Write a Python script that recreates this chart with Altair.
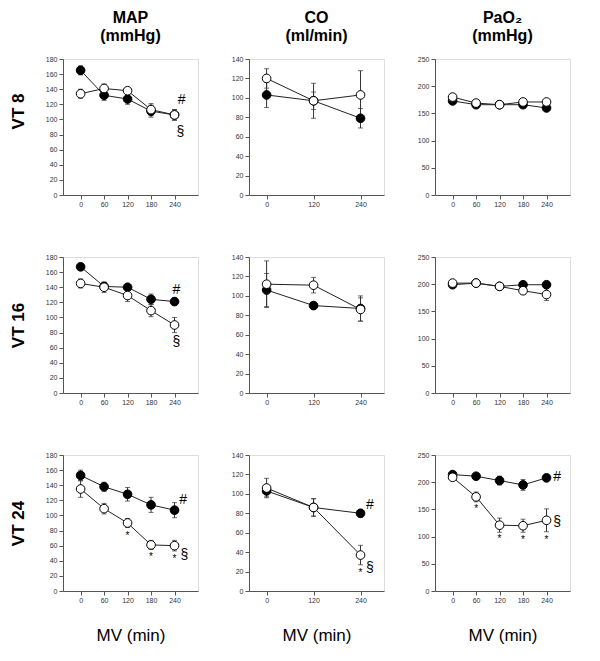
import altair as alt
import pandas as pd

FONT = "Liberation Sans"

times5 = [0, 60, 120, 180, 240]
times3 = [0, 120, 240]

# ---- MAP (mmHg) ----
map_vt8_filled = [165, 132, 127, 111, 106]
map_vt8_filled_err = [6, 7, 7, 8, 7]
map_vt8_open = [134, 141, 138, 113, 106]
map_vt8_open_err = [6, 6, 4, 8, 7]

map_vt16_filled = [167, 141, 140, 124, 121]
map_vt16_filled_err = [4, 5, 4, 7, 5]
map_vt16_open = [145, 140, 129, 109, 90]
map_vt16_open_err = [6, 7, 8, 8, 10]

map_vt24_filled = [153, 138, 128, 114, 107]
map_vt24_filled_err = [7, 6, 9, 10, 10]
map_vt24_open = [135, 109, 90, 61, 60]
map_vt24_open_err = [11, 7, 6, 6, 7]

# ---- CO (ml/min) ----
co_vt8_filled = [103, 97, 79]
co_vt8_filled_err = [13, 9, 10]
co_vt8_open = [120, 97, 103]
co_vt8_open_err = [10, 18, 25]

co_vt16_filled = [106, 90, 87]
co_vt16_filled_err = [17, 3, 13]
co_vt16_open = [112, 111, 86]
co_vt16_open_err = [24, 8, 12]

co_vt24_filled = [103, 86, 80]
co_vt24_filled_err = [6, 9, 4]
co_vt24_open = [106, 86, 37]
co_vt24_open_err = [10, 9, 10]

# ---- PaO2 (mmHg) ----
pao2_vt8_filled = [173, 166, 166, 166, 160]
pao2_vt8_filled_err = [5, 4, 3, 4, 4]
pao2_vt8_open = [180, 169, 166, 171, 171]
pao2_vt8_open_err = [5, 4, 3, 4, 4]

pao2_vt16_filled = [199, 202, 196, 199, 199]
pao2_vt16_filled_err = [4, 4, 4, 4, 4]
pao2_vt16_open = [202, 202, 196, 188, 181]
pao2_vt16_open_err = [4, 3, 4, 5, 11]

pao2_vt24_filled = [214, 211, 203, 195, 208]
pao2_vt24_filled_err = [4, 4, 8, 10, 4]
pao2_vt24_open = [209, 173, 121, 120, 130]
pao2_vt24_open_err = [5, 9, 13, 12, 21]

# ---- annotations (x, y, text) ----
map_vt8_notes = [(258, 126, "#"), (255, 83, "§")]
map_vt16_notes = [(245, 136, "#"), (245, 67, "§")]
map_vt24_notes = [(262, 121, "#"), (265, 47, "§")]
co_vt24_notes = [(264, 89, "#"), (264, 24, "§")]
pao2_vt24_notes = [(267, 209, "#"), (267, 126, "§")]

map_vt24_stars = [(120, 75), (180, 47), (240, 45)]
co_vt24_stars = [(240, 21)]
pao2_vt24_stars = [(60, 155), (120, 99), (180, 97), (240, 98)]

W, H = 135, 136
XDOM = [-45, 300]


def panel(times, filled, filled_err, open_, open_err, ymax, ystep,
          notes=(), stars=(), col_title=None, row_title=None, x_title=None,
          row_title_y=None):
    rows = []
    for g, vals, errs in (("filled", filled, filled_err), ("open", open_, open_err)):
        for t, v, e in zip(times, vals, errs):
            rows.append({"t": t, "v": v, "lo": v - e, "hi": v + e, "g": g})
    df = pd.DataFrame(rows)

    x_axis_kw = dict(values=times, grid=False, labelFontSize=7, labelFont=FONT,
                     labelColor="#333", tickSize=4, tickColor="#555",
                     domainColor="#555", labelPadding=1, labelOverlap=False,
                     labelFlush=False, tickCount=len(times))
    if x_title:
        x_axis_kw.update(title=x_title, titleFontSize=17, titleFont=FONT,
                         titleFontWeight="normal", titleColor="#000", titlePadding=24)
    else:
        x_axis_kw.update(title=None)
    yvals = list(range(0, ymax + 1, ystep))
    y_axis_kw = dict(values=yvals, grid=False,
                     labelFontSize=7, labelFont=FONT, labelColor="#333",
                     tickSize=4, tickColor="#555", domainColor="#555", labelPadding=2,
                     labelOverlap=False, labelFlush=False, tickCount=len(yvals))
    if row_title:
        y_axis_kw.update(title=row_title, titleFontSize=17, titleFont=FONT,
                         titleFontWeight="bold", titleColor="#000", titlePadding=18)
        if row_title_y is not None:
            y_axis_kw.update(titleY=row_title_y)
    else:
        y_axis_kw.update(title=None)

    xs = alt.Scale(domain=XDOM, nice=False, zero=False)
    ys = alt.Scale(domain=[0, ymax], nice=False, zero=False)
    xax = alt.Axis(**x_axis_kw)
    yax = alt.Axis(**y_axis_kw)

    def X(f):
        return alt.X(f, type="quantitative", scale=xs, axis=xax)

    def Y(f):
        return alt.Y(f, type="quantitative", scale=ys, axis=yax)

    base = alt.Chart(df)
    err = base.mark_rule(color="#333", strokeWidth=1).encode(
        x=X("t"), y=Y("lo"), y2="hi:Q")
    cap_lo = base.mark_tick(color="#333", orient="horizontal", size=5, thickness=1).encode(
        x=X("t"), y=Y("lo"))
    cap_hi = base.mark_tick(color="#333", orient="horizontal", size=5, thickness=1).encode(
        x=X("t"), y=Y("hi"))
    lines = base.mark_line(color="#222", strokeWidth=1).encode(
        x=X("t"), y=Y("v"), detail="g:N")
    pts_f = base.transform_filter(alt.datum.g == "filled").mark_point(
        shape="circle", filled=True, fill="#000", stroke="#000", strokeWidth=1,
        size=75, opacity=1).encode(x=X("t"), y=Y("v"))
    pts_o = base.transform_filter(alt.datum.g == "open").mark_point(
        shape="circle", filled=True, fill="#fff", stroke="#000", strokeWidth=1,
        size=75, opacity=1).encode(x=X("t"), y=Y("v"))

    layers = [err, cap_lo, cap_hi, lines, pts_f, pts_o]

    if notes:
        ndf = pd.DataFrame([{"t": a, "v": b, "s": s} for a, b, s in notes])
        layers.append(alt.Chart(ndf).mark_text(fontSize=14, font=FONT, color="#000",
                                               baseline="middle", align="center").encode(
            x=X("t"), y=Y("v"), text="s:N"))
    if stars:
        sdf = pd.DataFrame([{"t": a, "v": b, "s": "*"} for a, b in stars])
        layers.append(alt.Chart(sdf).mark_text(fontSize=10, font=FONT, color="#000",
                                               baseline="middle", align="center", dy=2).encode(
            x=X("t"), y=Y("v"), text="s:N"))

    ch = alt.layer(*layers).properties(width=W, height=H)
    if col_title:
        ch = ch.properties(title=alt.TitleParams(
            text=col_title, fontSize=16, font=FONT, fontWeight="bold", color="#000",
            anchor="middle", offset=11, lineHeight=18))
    return ch


panels = [
    panel(times5, map_vt8_filled, map_vt8_filled_err, map_vt8_open, map_vt8_open_err,
          180, 20, notes=map_vt8_notes, col_title=["MAP", "(mmHg)"], row_title="VT 8",
          row_title_y=52),
    panel(times3, co_vt8_filled, co_vt8_filled_err, co_vt8_open, co_vt8_open_err,
          140, 20, col_title=["CO", "(ml/min)"]),
    panel(times5, pao2_vt8_filled, pao2_vt8_filled_err, pao2_vt8_open, pao2_vt8_open_err,
          250, 50, col_title=["PaO₂", "(mmHg)"]),
    panel(times5, map_vt16_filled, map_vt16_filled_err, map_vt16_open, map_vt16_open_err,
          180, 20, notes=map_vt16_notes, row_title="VT 16"),
    panel(times3, co_vt16_filled, co_vt16_filled_err, co_vt16_open, co_vt16_open_err,
          140, 20),
    panel(times5, pao2_vt16_filled, pao2_vt16_filled_err, pao2_vt16_open, pao2_vt16_open_err,
          250, 50),
    panel(times5, map_vt24_filled, map_vt24_filled_err, map_vt24_open, map_vt24_open_err,
          180, 20, notes=map_vt24_notes, stars=map_vt24_stars, row_title="VT 24",
          x_title="MV (min)"),
    panel(times3, co_vt24_filled, co_vt24_filled_err, co_vt24_open, co_vt24_open_err,
          140, 20, notes=co_vt24_notes, stars=co_vt24_stars, x_title="MV (min)"),
    panel(times5, pao2_vt24_filled, pao2_vt24_filled_err, pao2_vt24_open, pao2_vt24_open_err,
          250, 50, notes=pao2_vt24_notes, stars=pao2_vt24_stars, x_title="MV (min)"),
]

chart = alt.concat(*panels, columns=3, spacing={"row": 62, "column": 51},
                   bounds="flush").properties(
    padding={"left": 0, "top": 1, "right": 5, "bottom": 5}
).configure_view(stroke=None).configure(background="white")

chart.save("out.html", embed_options={"renderer": "svg", "actions": False})
